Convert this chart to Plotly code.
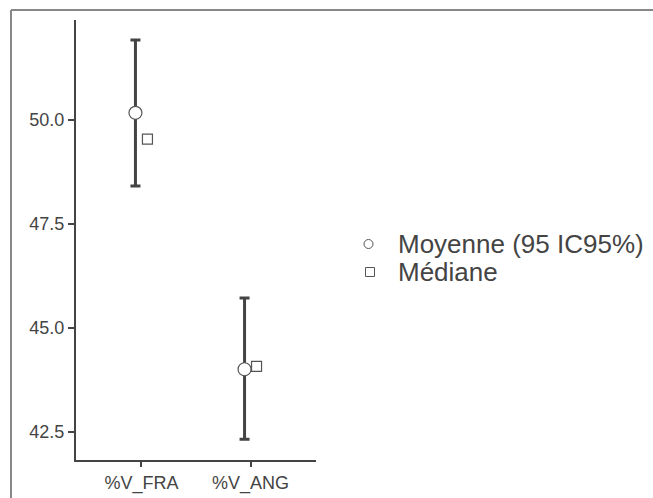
import plotly.graph_objects as go

categories = ["%V_FRA", "%V_ANG"]
means = [50.17, 44.01]
ci_upper = [51.92, 45.72]
ci_lower = [48.41, 42.33]
medians = [49.54, 44.08]
legend_labels = ["Moyenne (95 IC95%)", "Médiane"]

x_pos = list(range(len(categories)))
offset = 0.055
grey = "#333333"
axis_grey = "#444444"

# plot area in pixels, used to place the side key in paper coordinates
L, R, T, B, W, H = 76, 337, 20, 38, 653, 498
pw, ph = W - L - R, H - T - B


def px_x(px):
    return (px - L) / pw


def px_y(py):
    return (H - B - py) / ph


fig = go.Figure()

# Mean with 95% CI error bars
fig.add_trace(go.Scatter(
    x=[p - offset for p in x_pos], y=means, mode="markers", name=legend_labels[0],
    marker=dict(symbol="circle", size=13, color="white", line=dict(color="#555555", width=1.2)),
    error_y=dict(type="data", symmetric=False,
                 array=[u - m for u, m in zip(ci_upper, means)],
                 arrayminus=[m - l for m, l in zip(means, ci_lower)],
                 color="#444444", thickness=3, width=5),
    showlegend=False, hoverinfo="skip",
))
# Median
fig.add_trace(go.Scatter(
    x=[p + offset for p in x_pos], y=medians, mode="markers", name=legend_labels[1],
    marker=dict(symbol="square", size=10, color="white", line=dict(color="#555555", width=1.2)),
    showlegend=False, hoverinfo="skip",
))

# Side key: symbols as shapes, labels as annotations
key_rows = [244, 272]
key_shapes = [
    dict(type="circle", xref="paper", yref="paper", xsizemode="pixel", ysizemode="pixel",
         xanchor=px_x(368.5), yanchor=px_y(key_rows[0]), x0=-4.5, x1=4.5, y0=-4.5, y1=4.5,
         line=dict(color="#555555", width=1), fillcolor="white"),
    dict(type="rect", xref="paper", yref="paper", xsizemode="pixel", ysizemode="pixel",
         xanchor=px_x(370), yanchor=px_y(key_rows[1]), x0=-4.5, x1=4.5, y0=-4.5, y1=4.5,
         line=dict(color="#555555", width=1), fillcolor="white"),
]
key_annotations = [
    dict(text=lab, xref="paper", yref="paper", x=px_x(396), y=px_y(row),
         xanchor="left", yanchor="middle", showarrow=False,
         font=dict(size=26, color="#444444"))
    for lab, row in zip(legend_labels, key_rows)
]

fig.update_layout(
    width=W, height=H,
    margin=dict(l=L, r=R, t=T, b=B, autoexpand=False),
    plot_bgcolor="white", paper_bgcolor="white",
    font=dict(family="Liberation Sans, Arial, sans-serif", color=grey),
    showlegend=False,
    xaxis=dict(
        range=[-0.6, 1.6], tickvals=x_pos, ticktext=categories, automargin=False,
        showgrid=False, zeroline=False, showline=True, linecolor=axis_grey, linewidth=2,
        ticks="outside", ticklen=5, tickcolor=axis_grey, tickwidth=2,
        tickfont=dict(size=18, color="#444444"),
    ),
    yaxis=dict(
        range=[41.83, 52.4], tickvals=[42.5, 45.0, 47.5, 50.0], tickformat=".1f", automargin=False,
        showgrid=False, zeroline=False, showline=True, linecolor=axis_grey, linewidth=2,
        ticks="outside", ticklen=6, tickcolor=axis_grey, tickwidth=2,
        tickfont=dict(size=18, color="#444444"),
    ),
    annotations=key_annotations,
    shapes=[
        dict(type="line", xref="paper", yref="paper", x0=px_x(11), x1=px_x(W + 20),
             y0=px_y(10), y1=px_y(10), line=dict(color="#888888", width=2)),
        dict(type="line", xref="paper", yref="paper", x0=px_x(11), x1=px_x(11),
             y0=px_y(10), y1=px_y(H + 20), line=dict(color="#888888", width=2)),
    ] + key_shapes,
)

fig.write_html("out.html")
